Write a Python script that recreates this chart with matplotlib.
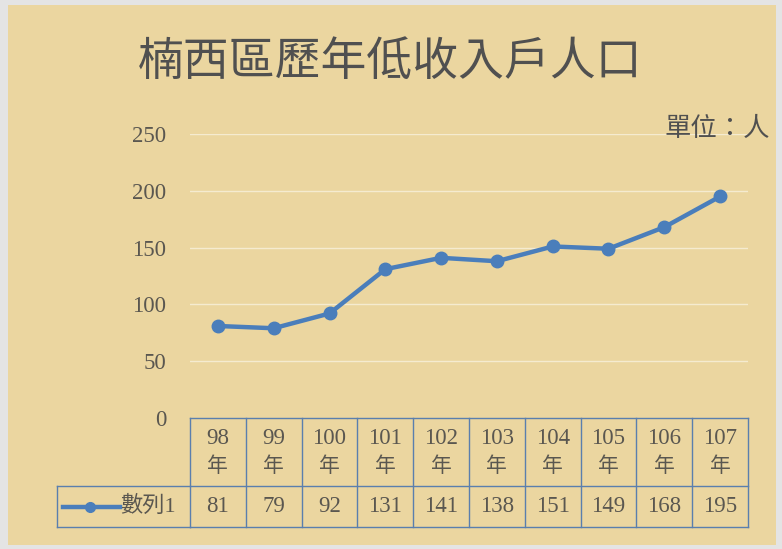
import matplotlib.pyplot as plt
from matplotlib.lines import Line2D
from matplotlib.patches import Rectangle

plt.rcParams['font.family'] = ['Liberation Serif', 'Noto Sans CJK TC']

# 資料
years = ['98', '99', '100', '101', '102', '103', '104', '105', '106', '107']
people = [81, 79, 92, 131, 141, 138, 151, 149, 168, 195]
series_name = '數列1'
yticks = [0, 50, 100, 150, 200, 250]

W, H = 782, 549
line_color = '#4A7EBB'
text_color = '#5A5750'
table_color = '#5A7FAE'

fig = plt.figure(figsize=(W / 100, H / 100), dpi=100)
fig.patch.set_facecolor('#E4E4E4')
# 羊皮紙背景
fig.patches.append(Rectangle((8 / W, 4 / H), 768 / W, 540 / H, transform=fig.transFigure,
                             facecolor='#EBD6A0', edgecolor='none', zorder=0))

ax = fig.add_axes([190 / W, (H - 418) / H, 558 / W, 284 / H])
ax.set_zorder(2)
ax.patch.set_alpha(0)

x = list(range(len(years)))
ax.plot(x, people, color=line_color, linewidth=3.2, marker='o', markersize=9, zorder=3)

ax.set_xlim(-0.5, len(years) - 0.5)
ax.set_ylim(0, 250)
ax.set_yticks(yticks)
ax.set_yticklabels([str(v) for v in yticks], fontsize=16.5, color=text_color)
ax.tick_params(axis='y', length=0, pad=17)
ax.set_xticks([])
for s in ax.spines.values():
    s.set_visible(False)
for v in yticks[1:]:
    ax.axhline(v, color='#F5EBD0', linewidth=1, zorder=1)

# 資料表
trans = ax.get_xaxis_transform()
row1 = -(486 - 418) / 284
row2 = -(527 - 418) / 284
leg_left = -(190 - 57) / 558

def seg(xs, ys, tr):
    ax.add_line(Line2D(xs, ys, transform=tr, color=table_color, linewidth=1, clip_on=False))

seg([-0.5, len(years) - 0.5], [0, 0], trans)
seg([-0.5, len(years) - 0.5], [row1, row1], trans)
seg([-0.5, len(years) - 0.5], [row2, row2], trans)
for i in range(len(years) + 1):
    seg([i - 0.5, i - 0.5], [0, row2], trans)
seg([leg_left, 0], [row1, row1], ax.transAxes)
seg([leg_left, 0], [row2, row2], ax.transAxes)
seg([leg_left, leg_left], [row1, row2], ax.transAxes)

for i, (yr, v) in enumerate(zip(years, people)):
    ax.text(i, -(438 - 418) / 284, yr, transform=trans, ha='center', va='center',
            fontsize=16.5, color=text_color)
    ax.text(i, -(467 - 418) / 284, '年', transform=trans, ha='center', va='center',
            fontsize=15, color=text_color)
    ax.text(i, (row1 + row2) / 2, str(v), transform=trans, ha='center', va='center',
            fontsize=16.5, color=text_color)

ymid = (row1 + row2) / 2
ax.add_line(Line2D([(63 - 190) / 558, (120 - 190) / 558], [ymid, ymid], transform=ax.transAxes,
                   color=line_color, linewidth=3.2, clip_on=False))
ax.add_line(Line2D([(90 - 190) / 558], [ymid], transform=ax.transAxes, color=line_color,
                   marker='o', markersize=7, clip_on=False))
ax.text((120 - 190) / 558, ymid, series_name, transform=ax.transAxes, ha='left', va='center',
        fontsize=16, color=text_color)

fig.text(390 / W, 1 - 62 / H, '楠西區歷年低收入戶人口', ha='center', va='center',
         fontsize=33, color='#505050', family=['Noto Sans CJK TC'], fontweight='light')
fig.text(770 / W, 1 - 128 / H, '單位：人', ha='right', va='center',
         fontsize=19, color='#505050', family=['Noto Sans CJK TC'], fontweight='light')

fig.savefig('out.png', dpi=100, facecolor=fig.get_facecolor())
